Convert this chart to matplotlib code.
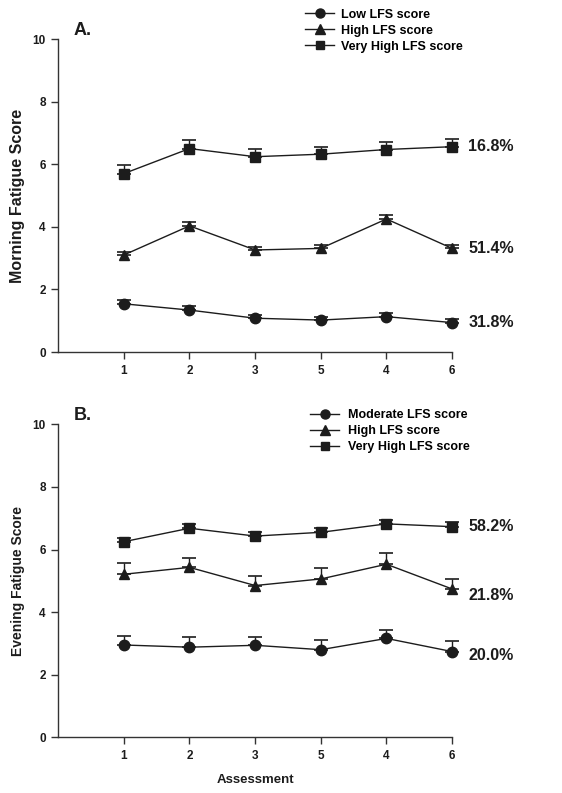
import matplotlib
matplotlib.use("Agg")
import matplotlib.pyplot as plt
import numpy as np

plt.rcParams["font.family"] = ["Liberation Sans", "DejaVu Sans"]
plt.rcParams["font.weight"] = "bold"

# ── data ─────────────────────────────────────────────
assessments = ["1", "2", "3", "5", "4", "6"]

# Panel A: morning fatigue
morning_low = [1.54, 1.34, 1.08, 1.02, 1.13, 0.94]
morning_low_se = [0.13, 0.12, 0.11, 0.11, 0.11, 0.11]
morning_high = [3.10, 4.03, 3.26, 3.31, 4.25, 3.31]
morning_high_se = [0.10, 0.12, 0.11, 0.12, 0.13, 0.11]
morning_vhigh = [5.70, 6.50, 6.24, 6.32, 6.47, 6.56]
morning_vhigh_se = [0.28, 0.27, 0.26, 0.24, 0.24, 0.24]
morning_labels = ["Low LFS score", "High LFS score", "Very High LFS score"]
morning_pct = ["31.8%", "51.4%", "16.8%"]

# Panel B: evening fatigue
evening_mod = [2.95, 2.88, 2.94, 2.80, 3.16, 2.74]
evening_mod_se = [0.30, 0.31, 0.28, 0.31, 0.27, 0.35]
evening_high = [5.21, 5.43, 4.85, 5.06, 5.53, 4.74]
evening_high_se = [0.37, 0.31, 0.29, 0.36, 0.36, 0.32]
evening_vhigh = [6.25, 6.68, 6.43, 6.55, 6.82, 6.73]
evening_vhigh_se = [0.13, 0.14, 0.13, 0.13, 0.12, 0.16]
evening_labels = ["Moderate LFS score", "High LFS score", "Very High LFS score"]
evening_pct = ["20.0%", "21.8%", "58.2%"]

INK = "#1c1c1c"
MARKERS = ["o", "^", "s"]
MSIZE = [7.5, 7.5, 6.5]


def draw_panel(ax, series, errs, labels, pcts, ylabel, tag, ylab_size,
               leg_anchor, textpad, pct_dy):
    x = np.arange(1, len(assessments) + 1)
    for vals, se, mk, ms, dy, pct in zip(series, errs, MARKERS, MSIZE, pct_dy, pcts):
        vals = np.array(vals)
        h = ax.errorbar(x, vals, yerr=[np.zeros_like(vals), np.array(se)],
                        fmt="-", marker=mk, ms=ms, color=INK, lw=1.0,
                        elinewidth=1.0, capsize=5, capthick=1.2)
        for art in h.get_children():
            art.set_clip_on(False)
        h.lines[0].set_clip_on(False)
        ax.annotate(pct, (x[-1], vals[-1]), textcoords="offset points",
                    xytext=(11.5, dy), va="center", ha="left",
                    fontsize=11.5, fontweight="bold", color=INK)

    ax.set_xlim(0, len(assessments))
    ax.set_ylim(0, 10)
    ax.set_xticks(x)
    ax.set_xticklabels(assessments)
    ax.set_yticks([0, 2, 4, 6, 8, 10])
    ax.spines["top"].set_visible(False)
    ax.spines["right"].set_visible(False)
    for s in ("left", "bottom"):
        ax.spines[s].set_color("#333333")
        ax.spines[s].set_linewidth(1.0)
    ax.tick_params(direction="out", length=5, width=1.0, colors="#333333",
                   labelsize=8.5, labelcolor=INK, pad=4)
    ax.set_ylabel(ylabel, fontsize=ylab_size, fontweight="bold", color=INK,
                  labelpad=5)
    ax.text(0.04, 1.0, tag, transform=ax.transAxes, fontsize=13,
            fontweight="bold", color=INK, va="bottom", ha="left")

    leg_handles = [plt.Line2D([], [], color=INK, lw=1.0, marker=mk, ms=ms - 1)
                   for mk, ms in zip(MARKERS, MSIZE)]
    fig.legend(leg_handles, labels, loc="upper left", bbox_to_anchor=leg_anchor,
               frameon=False, handlelength=2.3,
               handletextpad=textpad, labelspacing=0.32, borderpad=0,
               borderaxespad=0, prop={"weight": "bold", "size": 9})


fig = plt.figure(figsize=(5.62, 7.93), dpi=100)
axA = fig.add_axes([0.1035, 0.5561, 0.701, 0.3947])
axB = fig.add_axes([0.1035, 0.0702, 0.701, 0.3947])

draw_panel(axA, [morning_low, morning_high, morning_vhigh],
           [morning_low_se, morning_high_se, morning_vhigh_se],
           morning_labels, morning_pct, "Morning Fatigue Score", "A.", 11.5,
           (0.543, 0.989), 0.6, [0, 0, 0])
draw_panel(axB, [evening_mod, evening_high, evening_vhigh],
           [evening_mod_se, evening_high_se, evening_vhigh_se],
           evening_labels, evening_pct, "Evening Fatigue Score", "B.", 10,
           (0.552, 0.484), 0.75, [-3, -5, 0])

axB.set_xlabel("Assessment", fontsize=9.5, fontweight="bold", color=INK,
               labelpad=9)

plt.savefig("out.png", dpi=100)
